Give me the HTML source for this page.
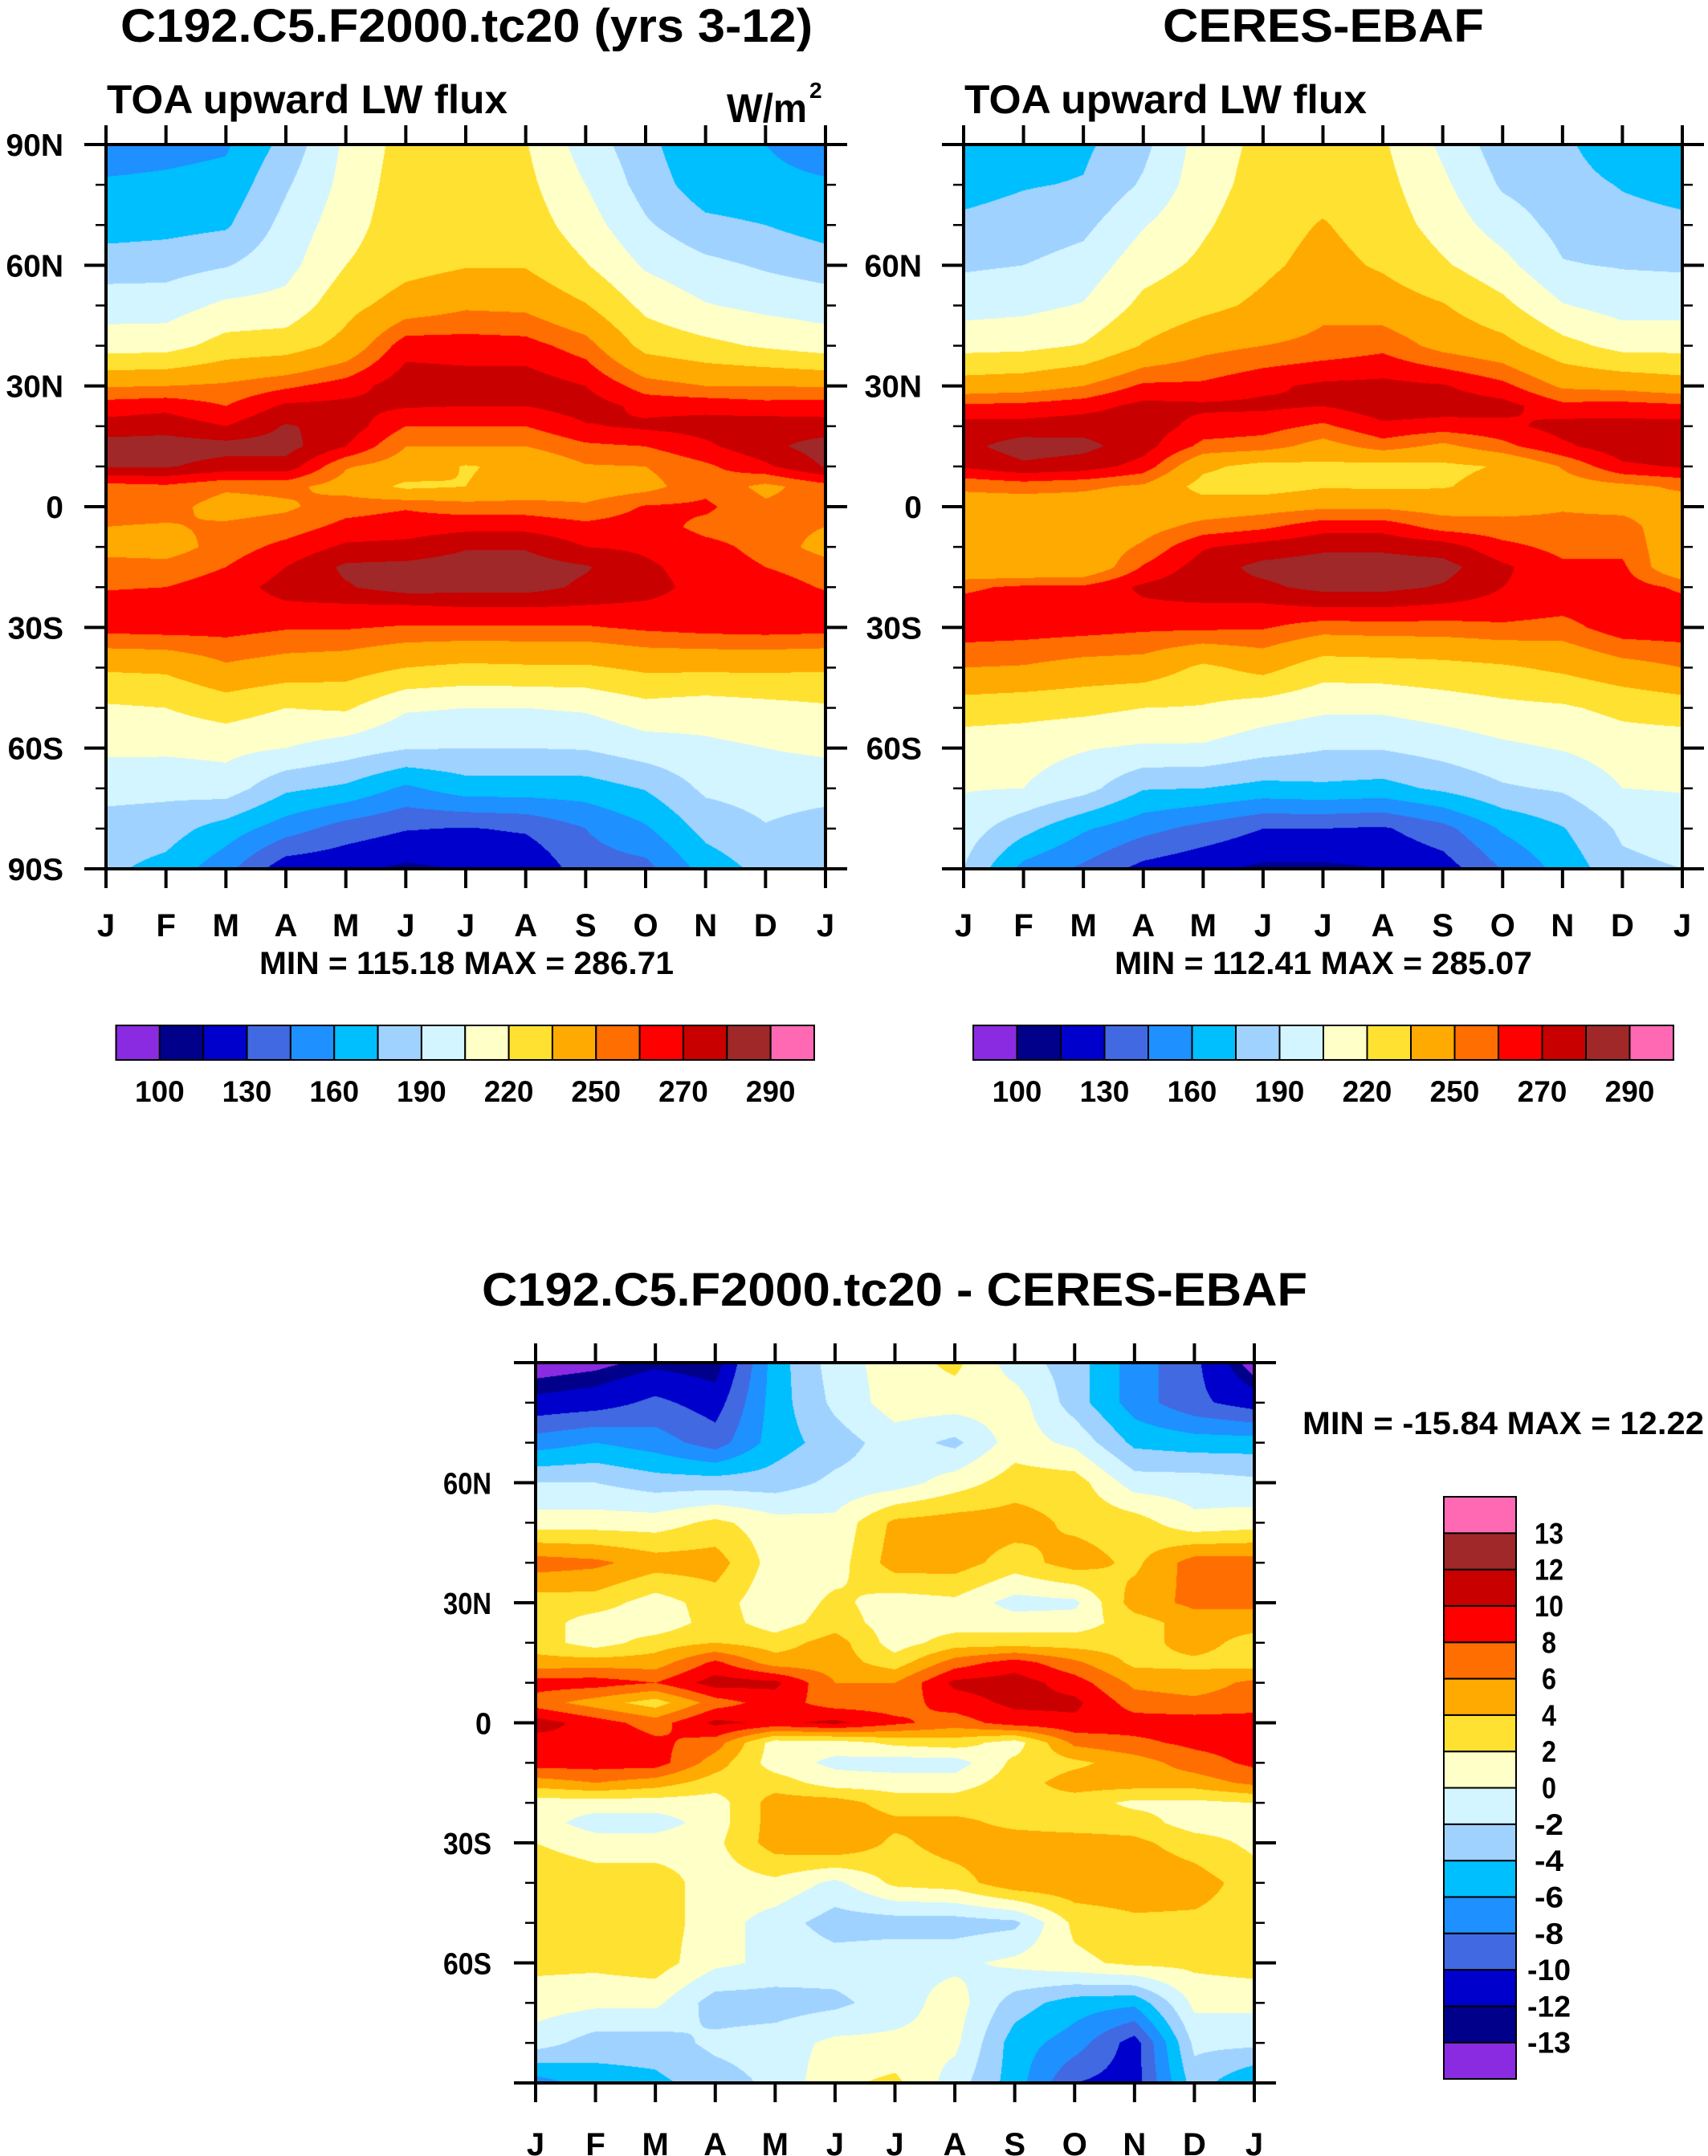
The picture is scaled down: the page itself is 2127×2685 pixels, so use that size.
<!DOCTYPE html>
<html><head><meta charset="utf-8">
<style>
html,body{margin:0;padding:0;background:#fff;}
#page{position:relative;width:2127px;height:2685px;overflow:hidden;background:#fff;font-family:"Liberation Sans",Arial,sans-serif;}
canvas{position:absolute;}
svg{position:absolute;left:0;top:0;}
</style></head>
<body>
<div id="page">
<canvas id="c1" style="left:132px;top:180px" width="896" height="902"></canvas>
<canvas id="c2" style="left:1200px;top:180px" width="895" height="902"></canvas>
<canvas id="c3" style="left:667px;top:1697px" width="895" height="897"></canvas>
<svg id="ov" width="2127" height="2685" font-family="Liberation Sans, Arial, sans-serif" font-weight="bold">
<text x="150" y="52" font-size="58" textLength="862" lengthAdjust="spacingAndGlyphs">C192.C5.F2000.tc20 (yrs 3-12)</text>
<text x="1448" y="52" font-size="58" textLength="400" lengthAdjust="spacingAndGlyphs">CERES-EBAF</text>
<text x="133" y="141" font-size="50" textLength="499" lengthAdjust="spacingAndGlyphs">TOA upward LW flux</text>
<text x="905" y="152" font-size="50" textLength="100" lengthAdjust="spacingAndGlyphs">W/m</text>
<text x="1008" y="122" font-size="28">2</text>
<text x="1201" y="141" font-size="50" textLength="501" lengthAdjust="spacingAndGlyphs">TOA upward LW flux</text>
<text x="323" y="1213" font-size="40" textLength="516" lengthAdjust="spacingAndGlyphs">MIN = 115.18 MAX = 286.71</text>
<text x="1388" y="1213" font-size="40" textLength="520" lengthAdjust="spacingAndGlyphs">MIN = 112.41 MAX = 285.07</text>
<text x="600" y="1626" font-size="58" textLength="1028" lengthAdjust="spacingAndGlyphs">C192.C5.F2000.tc20 - CERES-EBAF</text>
<text x="1622" y="1786" font-size="40" textLength="500" lengthAdjust="spacingAndGlyphs">MIN = -15.84 MAX =  12.22</text>
<g id="gen"></g>
</svg>
</div>
<script>
// ---------- data ----------
const months = ["J","F","M","A","M","J","J","A","S","O","N","D","J"];
const lats = [90,80,70,60,50,40,30,25,20,15,10,5,0,-5,-10,-15,-20,-25,-30,-40,-50,-60,-70,-80,-90];
const fluxLevels = [100,115,130,145,160,175,190,205,220,235,250,260,270,280,290];
const diffLevels = [-13,-12,-10,-8,-6,-4,-2,0,2,4,6,8,10,12,13];
const fluxTickLabels = ["100","130","160","190","220","250","270","290"];
const diffTickLabels = ["-13","-12","-10","-8","-6","-4","-2","0","2","4","6","8","10","12","13"];
const latTickLabels = ["90N","60N","30N","0","30S","60S","90S"];
const palette = ["#8a2be2","#00008b","#0000cd","#4169e1","#1e90ff","#00bfff","#a0d2ff","#d2f5ff","#ffffc8","#ffe132","#ffaa00","#ff6e00","#ff0000","#c80000","#a02828","#ff69b4"];

// model field: one row per month (Jan..Dec, Jan), values at lats
const modelValues = [
[152,162,168,183,198,213,249,265,274,285,281,256,254,250,245,255,259,265,264,237,218,208,195,184,178],
[155,163,170,184,198,214,250,267,276,285,281,258,254,249,244,254,260,266,265,238,220,208,194,182,170],
[158,165,173,189,208,226,252,260,270,284,276,252,245,252,255,260,265,265,264,248,227,209,198,168,150],
[180,188,195,200,210,228,258,272,281,284,276,253,248,255,263,270,274,268,261,244,220,205,178,152,120],
[208,210,214,220,230,240,265,273,276,270,251,245,256,263,272,282,279,268,261,242,222,198,172,138,118],
[226,228,229,230,242,266,276,271,260,250,244,232,259,265,273,283,285,268,259,235,207,191,157,131,112],
[228,230,232,234,248,265,275,270,260,250,234,235,255,267,279,285,284,270,259,232,205,190,168,129,116],
[221,224,228,234,247,264,276,270,260,250,238,240,255,267,279,285,284,270,259,233,205,190,168,132,117],
[198,205,212,221,236,255,270,275,269,258,249,242,252,263,270,281,278,269,259,233,207,191,168,145,138],
[180,184,192,203,216,230,255,267,272,260,250,246,261,265,268,272,274,268,262,238,215,198,176,158,140],
[160,166,179,194,206,224,250,267,274,268,258,257,262,257,263,265,266,266,264,238,212,202,193,180,166],
[160,164,175,188,201,218,250,264,276,277,268,247,252,255,257,260,265,266,265,238,215,205,196,189,180],
[152,162,168,183,198,213,249,265,274,285,281,256,254,250,245,255,259,265,264,237,218,208,195,184,178]
];
const ceresValues = [
[166,170,178,188,199,215,242,262,274,277,271,252,244,242,240,237,258,264,266,250,228,211,206,198,190],
[168,174,181,190,201,216,244,263,274,285,278,254,243,242,240,236,262,266,265,249,226,210,205,180,155],
[172,176,186,196,206,221,250,266,276,283,275,252,244,242,240,238,262,266,264,245,224,206,196,162,142],
[186,192,204,214,224,236,262,273,276,274,266,248,242,245,252,261,272,268,262,244,220,203,176,150,125],
[212,214,218,223,231,246,262,272,266,257,238,230,242,254,269,275,277,268,262,232,219,203,175,140,118],
[224,226,229,232,238,250,268,272,264,255,230,228,245,258,274,283,278,268,261,240,213,196,170,130,112],
[226,230,236,240,247,253,272,270,258,245,232,234,248,266,278,285,283,270,255,227,208,191,172,130,112],
[222,225,228,233,243,257,273,276,268,255,230,233,248,266,278,285,283,270,256,228,208,191,170,128,115],
[202,208,214,222,236,246,271,276,265,247,232,234,245,256,275,284,279,268,256,230,212,196,178,140,122],
[182,188,198,210,224,240,263,274,267,257,236,240,246,254,263,272,270,266,258,233,216,202,188,162,146],
[178,181,185,191,206,225,248,263,274,268,251,244,249,253,257,262,265,263,256,238,218,206,192,174,165],
[165,174,180,189,199,215,246,264,274,276,268,247,247,254,257,262,265,267,266,245,224,212,205,193,186],
[166,170,178,188,199,215,242,262,274,277,271,252,244,242,240,237,258,264,266,250,228,211,206,198,190]
];
const diffValues = [
[-14,-11.5,-7,-2,1,7,3,3,3,4.8,9,7,11,9,9,5,1,1,2,3.5,3,2.5,1,-1,-7],
[-13.5,-11,-6,-2,1,6.5,3,1,1,5,9,5,9,10,9,6,1,-1,1,3,3,2.5,0.5,-3,-5],
[-12.5,-9.5,-7,-3,1,5,1,0.5,3,5,8,3,7,8.5,9,5,1,-1,1,3,3,3,0.5,-3,-4.5],
[-13,-11,-9,-3,2.5,5,3,3,4,8.5,11,7,10.5,7,5,3,1,1,1.5,1,1,0.5,-3,-1.5,-3],
[-5,-5,-5,-3,0.8,1,0.5,1,3,5,10.5,9,9.5,1,1,3,5,5,5,1.5,-1,-0.5,-3,-1,-1.5],
[-1,-1.5,-3,-1.5,0.5,1,2.5,3,5,5,6,7,10.5,1,-0.5,1,5,5.5,6,-0.5,-3,-1,-2.5,0.5,1.5],
[1,1,-1,-1,4.5,5,1,1,1,3,6,7,8.5,2.5,-1,1,3,4.5,3.5,2.5,-3,-0.5,-1,0.5,2.5],
[2.5,1,-2.5,1,5,5,1.5,1,3,7,10.5,9,7,3,-1,1,3,4.5,5,3,-3,-0.5,1,0.5,-1],
[-1,1,1,3,5,3,-0.8,1,3,9,11,10.5,9,1,2.5,3,3.5,3.5,5,5.5,-2.5,0.5,-3,-5,-5],
[-3,-3,-0.5,3,3.5,5,-0.5,1,3,6.5,9,10.5,9.5,6.5,3.5,5,3,3,5,5.5,2.5,1.5,-5,-7,-10],
[-7,-7,-4.5,-1,3,3.5,5,3,3,3.5,5.5,7,9,7.5,5,5,1.5,3,4.5,5.5,3.5,2.5,-5.5,-11,-11],
[-9.5,-9.5,-5,-1,0.5,7,6.5,5,5,3.5,5,6.5,9,8.5,7,5,1.5,1,3,5,3.5,2.5,0.5,-1.5,-3],
[-14,-11,-5,-1.5,1,7,6.5,5,3,3,6.5,7,9,9,8.5,6.5,2,1,1.5,3,3,3,0.5,-1.5,-6]
];

// ---------- rendering ----------
function hexToRgb(h){return [parseInt(h.substr(1,2),16),parseInt(h.substr(3,2),16),parseInt(h.substr(5,2),16)];}
const rgbPal = palette.map(hexToRgb);
function levelIndex(v, levels){let i=0;while(i<levels.length && v>=levels[i]) i++;return i;}
function drawField(id, values, levels){
  const c=document.getElementById(id), ctx=c.getContext('2d');
  const W=c.width, H=c.height, img=ctx.createImageData(W,H), d=img.data;
  const nM=values.length-1;
  for(let py=0;py<H;py++){
    const lat=90-(py+0.5)/H*180;
    let r=0; while(r<lats.length-2 && lat<lats[r+1]) r++;
    const t=(lats[r]-lat)/(lats[r]-lats[r+1]);
    for(let px=0;px<W;px++){
      const m=(px+0.5)/W*nM; let k=Math.floor(m); if(k>=nM) k=nM-1;
      const s=m-k;
      const v=(1-s)*((1-t)*values[k][r]+t*values[k][r+1])+s*((1-t)*values[k+1][r]+t*values[k+1][r+1]);
      const col=rgbPal[levelIndex(v,levels)], o=(py*W+px)*4;
      d[o]=col[0];d[o+1]=col[1];d[o+2]=col[2];d[o+3]=255;
    }
  }
  ctx.putImageData(img,0,0);
}
drawField('c1',modelValues,fluxLevels);
drawField('c2',ceresValues,fluxLevels);
drawField('c3',diffValues,diffLevels);

const NS='http://www.w3.org/2000/svg', gen=document.getElementById('gen');
function mk(tag, attrs, parent){const e=document.createElementNS(NS,tag);for(const k in attrs)e.setAttribute(k,attrs[k]);(parent||gen).appendChild(e);return e;}

function axes(prefix, x0, y0, w, h, leftLabels, labelRight, monthBase, fs, condensed){
  const g=mk('g',{});
  
  
  const frame=mk('rect',{x:x0,y:y0,width:w,height:h,fill:'none',stroke:'#000','stroke-width':4},g);
  
  
  for(let la=90; la>=-90; la-=10){
    const y=y0+(90-la)/180*h, major=(la%30===0), L=major?27:13;
    mk('line',{x1:x0-L,y1:y,x2:x0,y2:y,stroke:'#000','stroke-width':major?4:2.5},g);
    mk('line',{x1:x0+w,y1:y,x2:x0+w+L,y2:y,stroke:'#000','stroke-width':major?4:2.5},g);
  }
  latTickLabels.forEach((lab,i)=>{
    if(!leftLabels && (i===0||i===6)) return;
    const y=y0+i*h/6;
    const t=mk('text',{x:labelRight,y:y+14,'font-size':fs,'text-anchor':'end'},g);
    if(condensed) {t.setAttribute('textLength', lab.length*20); t.setAttribute('lengthAdjust','spacingAndGlyphs');}
    t.textContent=lab;
    
    
  });
  months.forEach((lab,i)=>{
    const x=x0+i*w/12;
    mk('line',{x1:x,y1:y0-24,x2:x,y2:y0,stroke:'#000','stroke-width':4},g);
    mk('line',{x1:x,y1:y0+h,x2:x,y2:y0+h+24,stroke:'#000','stroke-width':4},g);
    const t=mk('text',{x:x,y:monthBase,'font-size':40,'text-anchor':'middle'},g);
    t.textContent=lab;
    
    
  });
}
axes('model',132,180,896,902,true,79,1166,39,false);
axes('ceres',1200,180,895,902,false,1148,1166,39,false);
axes('difference',667,1697,895,897,false,612,2684,38,true);

function hbar(prefix,x0,x1,y0,y1){
  const n=palette.length, bw=(x1-x0)/n;
  palette.forEach((col,i)=>{
    const r=mk('rect',{x:x0+i*bw,y:y0,width:bw,height:y1-y0,fill:col,stroke:'#000','stroke-width':2});
    
    
  });
  fluxTickLabels.forEach((lab,j)=>{
    const t=mk('text',{x:x0+(2*j+1)*bw,y:1372,'font-size':37,'text-anchor':'middle'});
    t.textContent=lab;
    
    
  });
}
hbar('model',144.5,1014,1277,1320);
hbar('ceres',1212,2084,1277,1320);

(function(){
  const x0=1798,x1=1888,y0=1864,y1=2589,n=palette.length,bh=(y1-y0)/n;
  palette.forEach((col,i)=>{
    const r=mk('rect',{x:x0,y:y1-(i+1)*bh,width:x1-x0,height:bh,fill:col,stroke:'#000','stroke-width':2});
    
    
  });
  diffTickLabels.forEach((lab,k)=>{
    const t=mk('text',{x:1929,y:y1-(k+1)*bh+13,'font-size':37,'text-anchor':'middle',textLength:lab.length*18,lengthAdjust:'spacingAndGlyphs'});
    t.textContent=lab;
    
    
  });
})();
</script>
</body></html>
